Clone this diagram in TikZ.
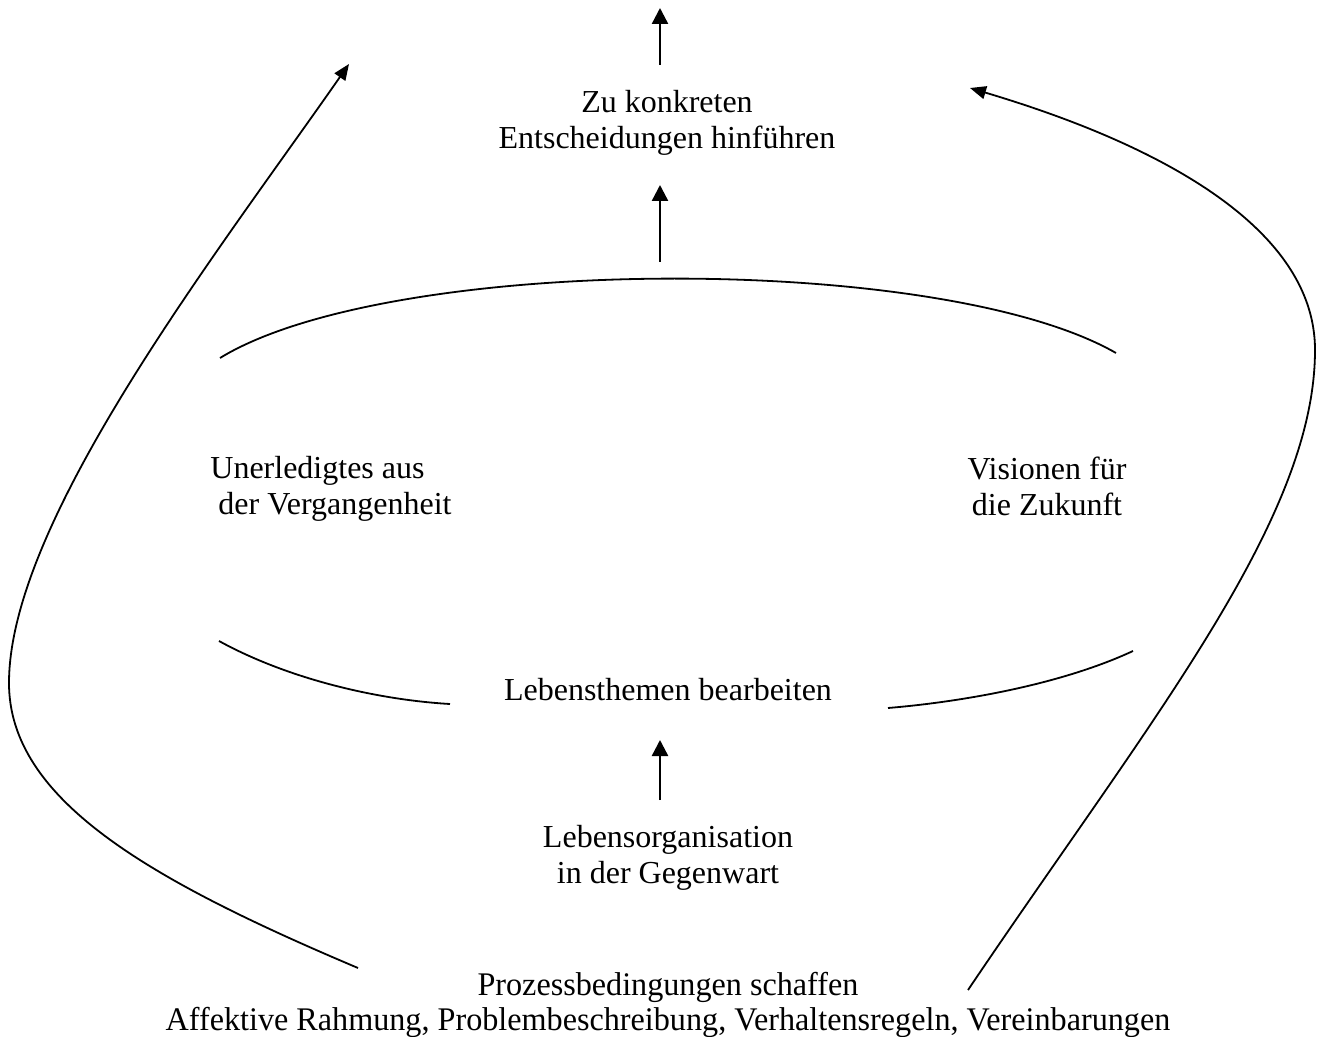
\documentclass[tikz,border=0pt]{standalone}
\usepackage{fontspec}
\setmainfont{Liberation Serif}
\usetikzlibrary{arrows.meta,positioning}

\begin{document}
\begin{tikzpicture}[x=0.5pt,y=-0.5pt,
    every node/.style={font=\fontsize{16}{18}\selectfont,align=center,inner sep=0pt},
    up/.style={-{Triangle[length=8pt,width=8pt]},line width=1.2pt},
    bogen/.style={line width=0.9pt},
    schleife/.style={-{Triangle[length=8pt,width=6.5pt]},line width=0.9pt}]
    \useasboundingbox (0,0) rectangle (1318,1037);

    \node (ziel) at (667,123) {Zu konkreten\\Entscheidungen hinführen};
    \node (vergangen) at (210,489) [anchor=west,align=left] {Unerledigtes aus\\\hspace*{4pt}der Vergangenheit};
    \node (zukunft) at (1047,486) {Visionen für\\die Zukunft};
    \node (themen) at (668,690) {Lebensthemen bearbeiten};
    \node (gegenwart) at (668,858) {Lebensorganisation\\in der Gegenwart};
    \node (prozess) at (668,1005) [font=\fontsize{16.5}{17.5}\selectfont,xscale=0.975]
        {Prozessbedingungen schaffen\\Affektive Rahmung, Problembeschreibung, Verhaltensregeln, Vereinbarungen};

    \coordinate (oben) at (660,8);
    \coordinate (ueberziel) at (660,65);
    \coordinate (unterziel) at (660,185);
    \coordinate (scheitel) at (660,262);
    \coordinate (unterthemen) at (660,740);
    \coordinate (uebergegenwart) at (660,800);
    \coordinate (linksstart) at (358,968);
    \coordinate (linksaussen) at (9,683);
    \coordinate (linksende) at (349,64);
    \coordinate (rechtsstart) at (968,990);
    \coordinate (rechtsaussen) at (1315,350);
    \coordinate (rechtsende) at (970,88);

    % Pfeile in der Mitte
    \draw[up] (ueberziel) -- (oben);
    \draw[up] (scheitel) -- (unterziel);
    \draw[up] (uebergegenwart) -- (unterthemen);

    % Ellipse
    \draw[bogen] (220,358) .. controls (390,254) and (940,252) .. (1116,353);
    \draw[bogen] (219,641) .. controls (290,680) and (380,700) .. (450,704);
    \draw[bogen] (888,708) .. controls (960,702) and (1060,685) .. (1133,651);

    % Schleifen
    \draw[schleife] (linksstart) .. controls (150,880) and (9,800) .. (linksaussen)
        .. controls (9,520) and (218,252) .. (linksende);
    \draw[schleife] (rechtsstart) .. controls (1150,720) and (1315,520) .. (rechtsaussen)
        .. controls (1315,200) and (1080,121) .. (rechtsende);
\end{tikzpicture}
\end{document}
